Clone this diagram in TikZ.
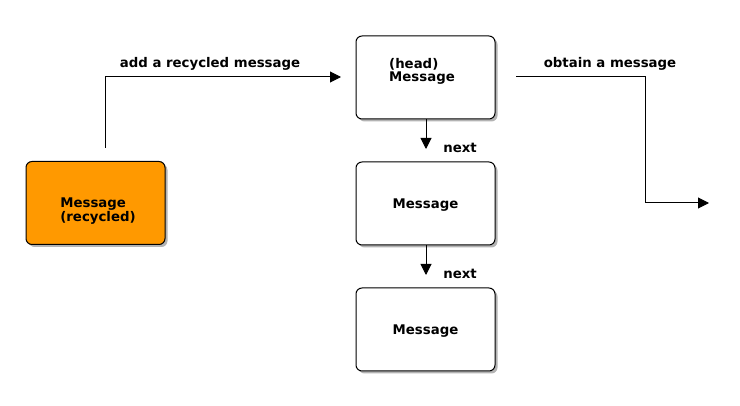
\documentclass[tikz,border=0pt]{standalone}
\usepackage{fontspec}
\setmainfont{DejaVu Sans}
\usetikzlibrary{arrows.meta,shadows}
\begin{document}
\begin{tikzpicture}[x=1pt,y=-1pt,
  box/.style={draw=black,line width=1pt,rounded corners=6pt,minimum width=139pt,minimum height=83pt,
    drop shadow={shadow xshift=2.5pt,shadow yshift=-2.5pt,fill=black!50,opacity=0.6}},
  lbl/.style={font=\bfseries\fontsize{13.3}{15}\selectfont,inner sep=0pt},
  btxt/.style={font=\bfseries\fontsize{13.3}{14}\selectfont,align=left,inner sep=0pt},
  conn/.style={line width=1pt,-{Triangle[length=11pt,width=11pt]}}]
\useasboundingbox (0,0) rectangle (740,406);
\node[box,fill={rgb,255:red,255;green,153;blue,0}] (rec) at (95.5,203) {};
\node[btxt] (rect) at (98,211) {Message\\[-0.5pt](recycled)};
\node[box,fill=white] (head) at (425.5,77.5) {};
\node[btxt] (headt) at (422,71.5) {(head)\\[-0.5pt]Message};
\node[box,fill=white] (m2) at (425.5,203.5) {};
\node[btxt] (m2t) at (425.5,205) {Message};
\node[box,fill=white] (m3) at (425.5,329.5) {};
\node[btxt] (m3t) at (425.5,331) {Message};
\coordinate (s1) at (105,148);
\coordinate (e1) at (341,77);
\draw[conn] (s1) |- (e1);
\node[lbl] (l1) at (210,64) {add a recycled message};
\coordinate (s2) at (516,77);
\coordinate (k2) at (645,77);
\coordinate (e2) at (709,203);
\draw[conn] (s2) -- (k2) |- (e2);
\node[lbl] (l2) at (610,64) {obtain a message};
\coordinate (n1) at (426,149);
\draw[conn] (head.south -| n1) -- (n1);
\node[lbl] (l3) at (460,148) {next};
\coordinate (n2) at (426,275);
\draw[conn] (m2.south -| n2) -- (n2);
\node[lbl] (l4) at (460,274) {next};
\end{tikzpicture}
\end{document}
